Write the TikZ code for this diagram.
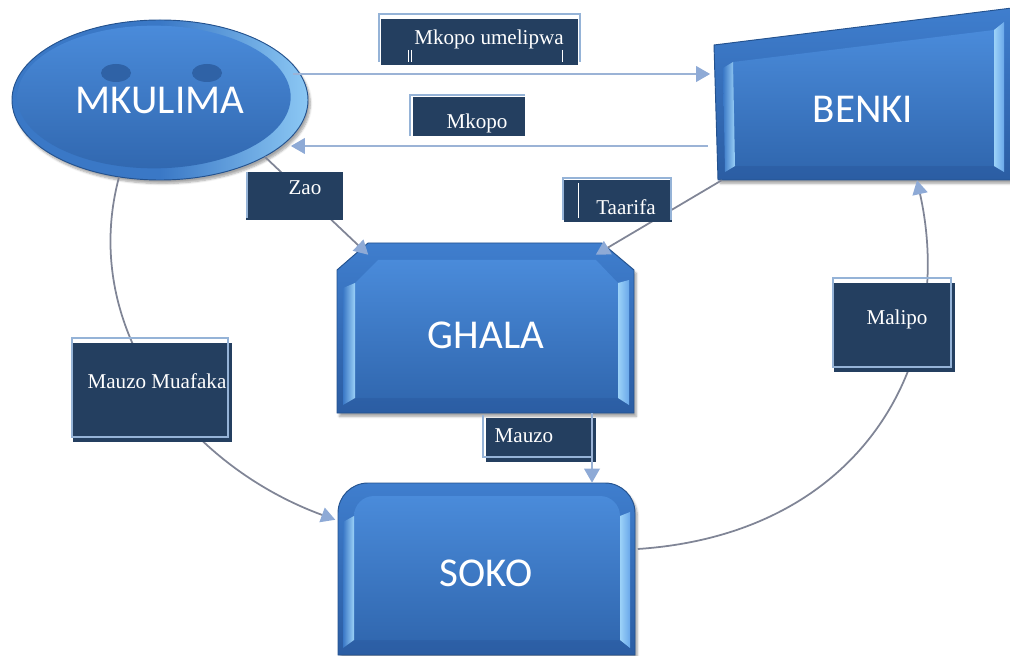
\documentclass[tikz,border=0pt]{standalone}
\usepackage{fontspec}
\setmainfont{Liberation Serif}
\newfontfamily\calib{Carlito}
\usetikzlibrary{arrows.meta,shapes.geometric,calc,shadows.blur}
\definecolor{navy}{HTML}{243F60}
\definecolor{framec}{HTML}{95B3D7}
\definecolor{linegrey}{HTML}{808596}
\definecolor{lineblue}{HTML}{9BB3D6}
\definecolor{tipblue}{HTML}{8EAAD6}
\definecolor{bevL}{HTML}{6AA8EA}
\definecolor{bevR}{HTML}{8CC8F4}
\definecolor{bevM}{HTML}{3A78C6}
\definecolor{outT}{HTML}{3F7ECE}
\definecolor{outB}{HTML}{2B5DA3}
\definecolor{panT}{HTML}{4A8BDA}
\definecolor{panB}{HTML}{3168B0}
\definecolor{stripc}{HTML}{9CD2F8}
\definecolor{edgec}{HTML}{24528E}
\definecolor{eyec}{HTML}{2F62A6}
\begin{document}
\begin{tikzpicture}[x=0.03cm,y=-0.03cm,
  outer/.style={top color=outT, bottom color=outB, draw=edgec, line width=0.8pt,
    blur shadow={shadow xshift=2pt, shadow yshift=-3pt, shadow blur steps=6, shadow opacity=35}},
  panel/.style={top color=panT, bottom color=panB},
  lstrip/.style={left color=bevM, right color=stripc},
  rstrip/.style={left color=stripc, right color=bevL},
  hub/.style={inner sep=0pt, font=\calib\fontsize{35}{40}\selectfont, text=white},
  lbl/.style={font=\fontsize{18}{20}\selectfont, text=white, inner sep=0pt},
  lblbox/.style={fill=navy},
  lblframe/.style={draw=framec, line width=1.6pt},
  tip/.style={-{Triangle[length=12pt,width=13pt,color=tipblue]}},
  sline/.style={tip, draw=lineblue, line width=2.4pt},
  gline/.style={tip, draw=linegrey, line width=1.5pt}]
\useasboundingbox (0,0) rectangle (1010,656);

% ---- shapes ----
% MKULIMA ellipse
\path[left color=bevM, right color=bevR, middle color=bevM, draw=edgec, line width=0.8pt,
  blur shadow={shadow xshift=2pt, shadow yshift=-3pt, shadow blur steps=6, shadow opacity=35}]
  (160,100) ellipse [x radius=4.44cm, y radius=2.4cm];
\path[panel] (154,97) ellipse [x radius=4.1cm, y radius=2.14cm];
\fill[eyec] (116,73) ellipse [x radius=0.45cm, y radius=0.27cm];
\fill[eyec] (207,73) ellipse [x radius=0.45cm, y radius=0.27cm];
% BENKI
\path[outer] (714,45) -- (1012,8) -- (1012,180) -- (718,180) -- cycle;
\path[panel] (733,62) -- (994,30) -- (994,166) -- (735,166) -- cycle;
\path[lstrip] (723,68) -- (733,62) -- (735,166) -- (725,172) -- cycle;
\path[rstrip] (994,30) -- (1004,22) -- (1004,172) -- (994,166) -- cycle;
% GHALA
\path[outer] (337,270) -- (368,243) -- (602,243) -- (634,270) -- (634,413) -- (337,413) -- cycle;
\path[panel] (355,283) -- (378,260) -- (596,260) -- (618,283) -- (618,398) -- (355,398) -- cycle;
\path[lstrip] (343,288) -- (355,283) -- (355,398) -- (343,405) -- cycle;
\path[rstrip] (618,283) -- (629,280) -- (629,405) -- (618,398) -- cycle;
% SOKO
\path[outer] (338,655) -- (338,513) arc[start angle=180, end angle=90, radius=0.9cm]
  -- (605,483) arc[start angle=90, end angle=0, radius=0.9cm] -- (635,655) -- cycle;
\path[panel] (354,640) -- (354,516) arc[start angle=180, end angle=90, radius=0.6cm]
  -- (600,496) arc[start angle=90, end angle=0, radius=0.6cm] -- (620,640) -- cycle;
\path[lstrip] (343,522) -- (354,516) -- (354,640) -- (343,648) -- cycle;
\path[rstrip] (620,516) -- (630,512) -- (630,648) -- (620,640) -- cycle;

% ---- hub nodes (text + anchors) ----
\node[hub, ellipse, minimum width=8.88cm, minimum height=4.8cm] (mkulima) at (160,100) {MKULIMA};
\node[hub, minimum width=8.7cm, minimum height=4.26cm] (benki) at (863,109) {BENKI};
\node[hub, minimum width=8.91cm, minimum height=4.68cm] (ghala) at (486,335) {GHALA};
\node[hub, minimum width=8.91cm, minimum height=5.4cm] (soko) at (486,573) {SOKO};

% ---- connectors ----
\draw[sline] ([shift={(-15,-26)}]mkulima.east) -- ++(417,0);
\draw[sline] ([shift={(-10,37)}]benki.west) -- ++(-417,0);
\draw[gline] (mkulima.south east) -- ([shift={(31,-2)}]ghala.north west);
\draw[gline] ([shift={(4,0)}]benki.south west) -- ([shift={(-39,-2)}]ghala.north east);
\draw[gline] (mkulima.-118) .. controls +(-40,150) and +(-150,-55) .. ([shift={(-2,37)}]soko.north west);
\draw[gline] ([shift={(3,-24)}]soko.east) .. controls +(225,-15) and +(40,180) .. ([shift={(54,0)}]benki.south);

% ---- label boxes ----
\fill[lblbox] (381,19) rectangle (578,65);
\draw[lblframe] (379,62) -- (379,14) -- (580,14) -- (580,62);
\draw[white, line width=0.6pt] (408,50) -- (408,62) (411,50) -- (411,62) (562,50) -- (562,62);
\node[lbl] (tmkopoum) at (489,39) {Mkopo umelipwa};

\fill[lblbox] (413,97) rectangle (525,136);
\draw[lblframe] (410,136) -- (410,95) -- (525,95);
\node[lbl] (tmkopo) at (477,123) {Mkopo};

\fill[lblbox] (246,172) rectangle (343,220);
\draw[lblframe] (247,172) -- (247,218);
\node[lbl] (tzao) at (305,188) {Zao};

\fill[lblbox] (564,180) rectangle (672,222);
\draw[lblframe] (563,220) -- (563,178) -- (671,178) -- (671,220);
\draw[white, line width=0.6pt] (578,183) -- (578,218);
\node[lbl] (ttaarifa) at (626,207) {Taarifa};

\fill[lblbox] (73,343) rectangle (232,442);
\draw[lblframe] (72,338) rectangle (228,437);
\node[lbl] (tmuafaka) at (157,381) {Mauzo Muafaka};

\fill[lblbox] (834,283) rectangle (955,372);
\draw[lblframe] (833,278) rectangle (951,367);
\node[lbl] (tmalipo) at (897,319) {Malipo};

\fill[lblbox] (486,418) rectangle (596,462);
\draw[lblframe] (483,415) -- (483,457) -- (592,457);
\node[lbl] (tmauzo) at (524,436) {Mauzo};

\draw[sline] ([xshift=3.18cm]ghala.south) -- ([xshift=3.18cm]soko.north);
\end{tikzpicture}
\end{document}
